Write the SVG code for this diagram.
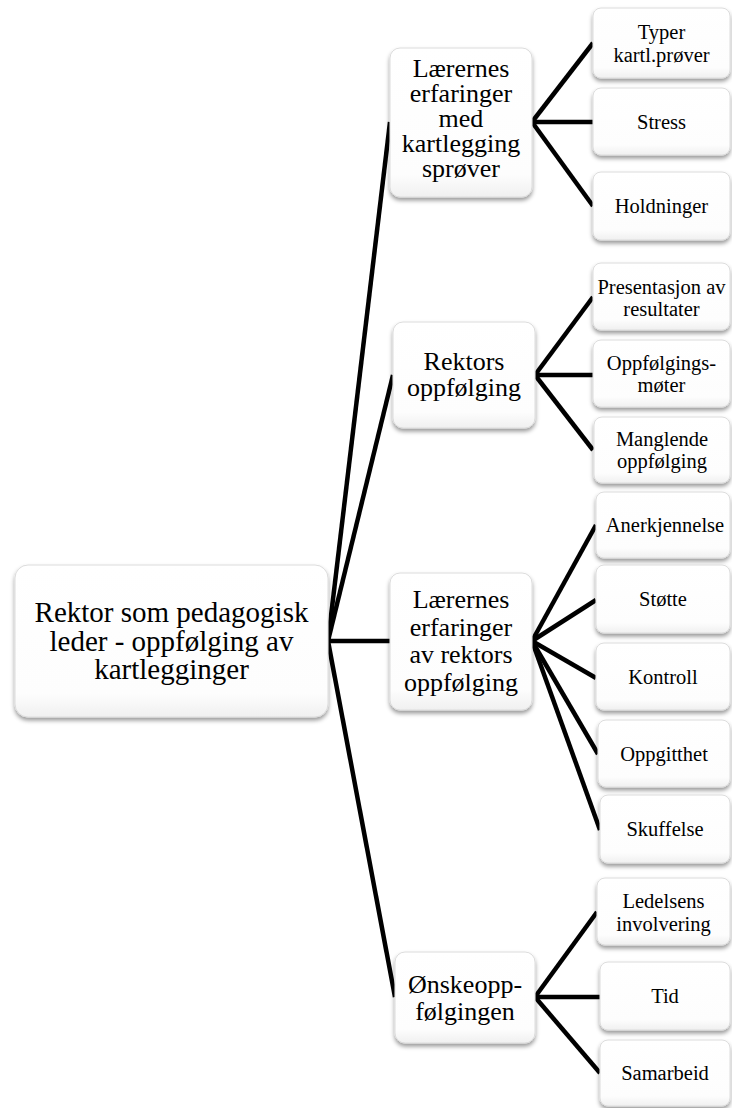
<svg xmlns="http://www.w3.org/2000/svg" width="732" height="1108" viewBox="0 0 732 1108">
<defs>
<filter id="sh" x="-10%" y="-10%" width="120%" height="130%">
<feDropShadow dx="0" dy="3" stdDeviation="2" flood-color="#000" flood-opacity="0.4"/>
</filter>
<linearGradient id="g" x1="0" y1="0" x2="0" y2="1">
<stop offset="0" stop-color="#ffffff"/>
<stop offset="0.85" stop-color="#fdfdfd"/>
<stop offset="1" stop-color="#f0f0f0"/>
</linearGradient>
</defs>
<style>
.box{fill:url(#g);stroke:#dcdcdc;stroke-width:1;filter:url(#sh)}
.t{fill:#000;text-anchor:middle;font-family:'Liberation Serif','Times New Roman',serif}
.root{font-size:29px}
.mid{font-size:26px}
.leaf{font-size:20.5px}
.c{stroke:#000;stroke-width:4.5;fill:none;stroke-linecap:butt}
</style>
<rect width="732" height="1108" fill="#fff"/>
<g id="connectors">
<line class="c" x1="328" y1="641" x2="390" y2="122"/>
<line class="c" x1="328" y1="641" x2="393" y2="375"/>
<line class="c" x1="328" y1="641" x2="390" y2="641"/>
<line class="c" x1="328" y1="641" x2="395" y2="997"/>
<line class="c" x1="532" y1="122" x2="593" y2="43"/>
<line class="c" x1="532" y1="122" x2="593" y2="122"/>
<line class="c" x1="532" y1="122" x2="593" y2="206"/>
<line class="c" x1="535" y1="375" x2="593" y2="297"/>
<line class="c" x1="535" y1="375" x2="593" y2="375"/>
<line class="c" x1="535" y1="375" x2="593" y2="450"/>
<line class="c" x1="532" y1="641" x2="596" y2="525"/>
<line class="c" x1="532" y1="641" x2="596" y2="600"/>
<line class="c" x1="532" y1="641" x2="596" y2="678"/>
<line class="c" x1="532" y1="641" x2="598" y2="754"/>
<line class="c" x1="532" y1="641" x2="600" y2="830"/>
<line class="c" x1="535" y1="997" x2="597" y2="912"/>
<line class="c" x1="535" y1="997" x2="600" y2="997"/>
<line class="c" x1="535" y1="997" x2="600" y2="1073"/>
</g>
<g id="root">
<rect class="box" x="15" y="565" width="313" height="152" rx="13"/>
<text class="t root"><tspan x="171.5" y="622">Rektor som pedagogisk</tspan><tspan x="171.5" y="650.5">leder - oppfølging av</tspan><tspan x="171.5" y="679">kartlegginger</tspan></text>
</g>
<g id="mid1">
<rect class="box" x="390" y="48" width="142" height="149" rx="10"/>
<text class="t mid"><tspan x="461" y="77">Lærernes</tspan><tspan x="461" y="102">erfaringer</tspan><tspan x="461" y="127">med</tspan><tspan x="461" y="152">kartlegging</tspan><tspan x="461" y="177">sprøver</tspan></text>
</g>
<g id="mid2">
<rect class="box" x="393" y="322" width="142" height="106" rx="10"/>
<text class="t mid"><tspan x="464" y="370">Rektors</tspan><tspan x="464" y="396">oppfølging</tspan></text>
</g>
<g id="mid3">
<rect class="box" x="390" y="573" width="142" height="137" rx="10"/>
<text class="t mid"><tspan x="461" y="608">Lærernes</tspan><tspan x="461" y="635.5">erfaringer</tspan><tspan x="461" y="663">av rektors</tspan><tspan x="461" y="690.5">oppfølging</tspan></text>
</g>
<g id="mid4">
<rect class="box" x="395" y="952" width="140" height="91" rx="10"/>
<text class="t mid"><tspan x="465" y="993">Ønskeopp-</tspan><tspan x="465" y="1020">følgingen</tspan></text>
</g>
<g id="leaf-typer">
<rect class="box" x="593" y="8" width="137" height="70" rx="8"/>
<text class="t leaf"><tspan x="661.5" y="39">Typer</tspan><tspan x="661.5" y="62">kartl.prøver</tspan></text>
</g>
<g id="leaf-stress">
<rect class="box" x="593" y="88" width="137" height="67" rx="8"/>
<text class="t leaf" x="661.5" y="129">Stress</text>
</g>
<g id="leaf-holdninger">
<rect class="box" x="593" y="172" width="137" height="68" rx="8"/>
<text class="t leaf" x="661.5" y="213">Holdninger</text>
</g>
<g id="leaf-presentasjon">
<rect class="box" x="593" y="263" width="137" height="67" rx="8"/>
<text class="t leaf"><tspan x="661.5" y="294">Presentasjon av</tspan><tspan x="661.5" y="316">resultater</tspan></text>
</g>
<g id="leaf-oppfolgingsmoter">
<rect class="box" x="593" y="340" width="137" height="67" rx="8"/>
<text class="t leaf"><tspan x="661.5" y="370">Oppfølgings-</tspan><tspan x="661.5" y="392">møter</tspan></text>
</g>
<g id="leaf-manglende">
<rect class="box" x="594" y="417" width="136" height="66" rx="8"/>
<text class="t leaf"><tspan x="662" y="446">Manglende</tspan><tspan x="662" y="468">oppfølging</tspan></text>
</g>
<g id="leaf-anerkjennelse">
<rect class="box" x="596" y="492" width="134" height="66" rx="8"/>
<text class="t leaf" x="665" y="532">Anerkjennelse</text>
</g>
<g id="leaf-stotte">
<rect class="box" x="596" y="565" width="134" height="68" rx="8"/>
<text class="t leaf" x="663" y="606">Støtte</text>
</g>
<g id="leaf-kontroll">
<rect class="box" x="596" y="643" width="134" height="67" rx="8"/>
<text class="t leaf" x="663" y="684">Kontroll</text>
</g>
<g id="leaf-oppgitthet">
<rect class="box" x="598" y="720" width="132" height="67" rx="8"/>
<text class="t leaf" x="664" y="761">Oppgitthet</text>
</g>
<g id="leaf-skuffelse">
<rect class="box" x="600" y="795" width="130" height="68" rx="8"/>
<text class="t leaf" x="665" y="836">Skuffelse</text>
</g>
<g id="leaf-ledelsens">
<rect class="box" x="597" y="878" width="133" height="67" rx="8"/>
<text class="t leaf"><tspan x="663.5" y="908">Ledelsens</tspan><tspan x="663.5" y="931">involvering</tspan></text>
</g>
<g id="leaf-tid">
<rect class="box" x="600" y="962" width="130" height="68" rx="8"/>
<text class="t leaf" x="665" y="1003">Tid</text>
</g>
<g id="leaf-samarbeid">
<rect class="box" x="600" y="1040" width="130" height="66" rx="8"/>
<text class="t leaf" x="665" y="1080">Samarbeid</text>
</g>
</svg>
